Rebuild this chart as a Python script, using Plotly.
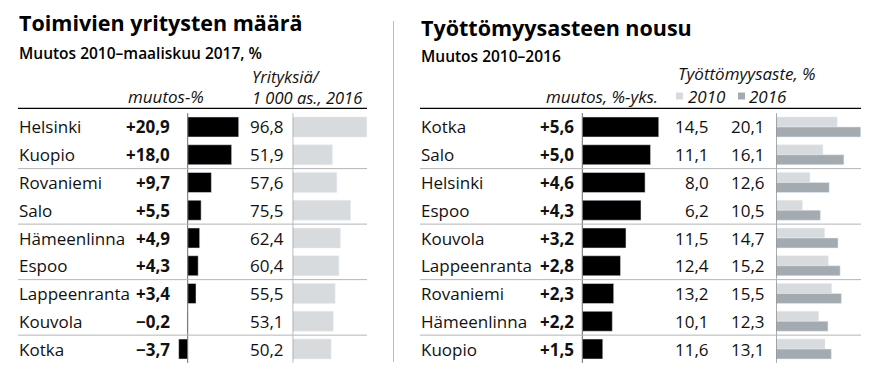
import plotly.graph_objects as go

# ---------------- data ----------------
left_cities = ["Helsinki", "Kuopio", "Rovaniemi", "Salo", "Hämeenlinna",
               "Espoo", "Lappeenranta", "Kouvola", "Kotka"]
left_change = [20.9, 18.0, 9.7, 5.5, 4.9, 4.3, 3.4, -0.2, -3.7]
left_per1000 = [96.8, 51.9, 57.6, 75.5, 62.4, 60.4, 55.5, 53.1, 50.2]

right_cities = ["Kotka", "Salo", "Helsinki", "Espoo", "Kouvola",
                "Lappeenranta", "Rovaniemi", "Hämeenlinna", "Kuopio"]
right_change = [5.6, 5.0, 4.6, 4.3, 3.2, 2.8, 2.3, 2.2, 1.5]
rate2010 = [14.5, 11.1, 8.0, 6.2, 11.5, 12.4, 13.2, 10.1, 11.6]
rate2016 = [20.1, 16.1, 12.6, 10.5, 14.7, 15.2, 15.5, 12.3, 13.1]

W, H = 873, 386
FONT = "Open Sans"
BLACK = "#000000"
LIGHT = "#d8dbde"
DARK = "#a3abb1"
SEP = "#b4b4b4"
AXC = "#6a6a6a"

rows = list(range(len(left_cities)))


def fmt(v, sign=False):
    s = f"{abs(v):.1f}".replace(".", ",")
    if sign:
        s = ("+" if v >= 0 else "\u2212") + s
    return s


def px_x(p):
    return p / W


def px_y(p):
    return 1 - p / H


def axis_range(zero_px, scale, p0, p1):
    return [(p0 - zero_px) / scale, (p1 - zero_px) / scale]


fig = go.Figure()

# bars
fig.add_trace(go.Bar(y=rows, x=left_change, orientation="h", marker_color=BLACK,
                     xaxis="x", yaxis="y", showlegend=False, hoverinfo="skip"))
fig.add_trace(go.Bar(y=rows, x=left_per1000, orientation="h", marker_color=LIGHT,
                     xaxis="x2", yaxis="y", showlegend=False, hoverinfo="skip"))
fig.add_trace(go.Bar(y=rows, x=right_change, orientation="h", marker_color=BLACK,
                     xaxis="x3", yaxis="y", showlegend=False, hoverinfo="skip"))
fig.add_trace(go.Bar(y=rows, x=rate2010, orientation="h", marker_color=LIGHT,
                     xaxis="x4", yaxis="y", showlegend=False, hoverinfo="skip"))
fig.add_trace(go.Bar(y=rows, x=rate2016, orientation="h", marker_color=DARK,
                     xaxis="x4", yaxis="y", showlegend=False, hoverinfo="skip"))

hidden = dict(visible=False, showgrid=False, zeroline=False, fixedrange=True)

ax_defs = {
    "xaxis": (187.7, 2.44, 170, 262),
    "xaxis2": (292.7, 0.765, 292.7, 372),
    "xaxis3": (582.3, 13.65, 575, 668),
    "xaxis4": (776.3, 4.2, 776.3, 868),
}
layout_axes = {}
for name, (z, s, p0, p1) in ax_defs.items():
    layout_axes[name] = dict(hidden, domain=[px_x(p0), px_x(p1)],
                             range=axis_range(z, s, p0, p1), anchor="y")

fig.update_layout(
    width=W, height=H, autosize=False,
    margin=dict(l=0, r=0, t=0, b=0),
    paper_bgcolor="white", plot_bgcolor="rgba(0,0,0,0)",
    barmode="group", bargap=0.28, bargroupgap=0,
    yaxis=dict(hidden, range=[8.5, -0.5],
               domain=[px_y(362.9), px_y(113.1)]),
    font=dict(family=FONT, color="#111111"),
    **layout_axes,
)

shapes = []
# zero / baseline axes
for xr in ["x", "x2", "x3", "x4"]:
    shapes.append(dict(type="line", xref=xr, yref="y", x0=0, x1=0, y0=-0.5, y1=8.5,
                       line=dict(color=AXC, width=1)))
# separators every two rows
for yy in [1.5, 3.5, 5.5, 7.5]:
    shapes.append(dict(type="line", xref="paper", yref="y", x0=px_x(18), x1=px_x(367),
                       y0=yy, y1=yy, line=dict(color=SEP, width=1)))
    shapes.append(dict(type="line", xref="paper", yref="y", x0=px_x(420), x1=px_x(861),
                       y0=yy, y1=yy, line=dict(color=SEP, width=1)))
# top header rules
shapes.append(dict(type="line", xref="paper", yref="paper", x0=px_x(18), x1=px_x(367),
                   y0=px_y(108.3), y1=px_y(108.3), line=dict(color="#000", width=1.2)))
shapes.append(dict(type="line", xref="paper", yref="paper", x0=px_x(420), x1=px_x(861),
                   y0=px_y(108.3), y1=px_y(108.3), line=dict(color="#000", width=1.2)))
# panel divider
shapes.append(dict(type="line", xref="paper", yref="paper", x0=px_x(393.5), x1=px_x(393.5),
                   y0=px_y(21), y1=px_y(362), line=dict(color="#bdbdbd", width=1)))
# legend squares
shapes.append(dict(type="rect", xref="paper", yref="paper", x0=px_x(676), x1=px_x(683),
                   y0=px_y(99.5), y1=px_y(92.5), line=dict(width=0), fillcolor=LIGHT))
shapes.append(dict(type="rect", xref="paper", yref="paper", x0=px_x(738), x1=px_x(745),
                   y0=px_y(99.5), y1=px_y(92.5), line=dict(width=0), fillcolor=DARK))

ann = []


def txt(text, x, y, size, anchor="left", yref="paper", weight=400, italic=False,
        color="#111111", align="left"):
    ann.append(dict(
        text=text, x=px_x(x), y=(px_y(y) if yref == "paper" else y),
        xref="paper", yref=yref, xanchor=anchor, yanchor="middle",
        showarrow=False, align=align,
        font=dict(family=FONT, size=size, color=color, weight=weight,
                  style="italic" if italic else "normal"),
    ))


# titles
txt("Toimivien yritysten määrä", 17, 23, 21.5, weight=700, color="#000")
txt("Muutos 2010\u2013maaliskuu 2017, %", 17, 53, 15.5, weight=600, color="#000")
txt("Työttömyysasteen nousu", 419, 27, 21.5, weight=700, color="#000")
txt("Muutos 2010\u20132016", 419, 56, 15.5, weight=600, color="#000")

# column headers
txt("muutos-%", 206, 96, 17, anchor="right", italic=True)
txt("Yrityksiä/<br>1 000 as., 2016", 250, 86.5, 16.5, italic=True)
txt("muutos, %-yks.", 660, 96, 17, anchor="right", italic=True)
txt("Työttömyysaste, %", 676, 73.5, 17, italic=True)
txt("2010", 686, 96, 17, italic=True)
txt("2016", 747, 96, 17, italic=True)

# row labels / values
for i in rows:
    txt(left_cities[i], 17, i, 17, yref="y")
    txt(fmt(left_change[i], True), 172, i, 17, anchor="right", yref="y", weight=700)
    txt(fmt(left_per1000[i]), 286, i, 17, anchor="right", yref="y")
    txt(right_cities[i], 419, i, 17, yref="y")
    txt(fmt(right_change[i], True), 576, i, 17, anchor="right", yref="y", weight=700)
    txt(fmt(rate2010[i]), 711, i, 17, anchor="right", yref="y")
    txt(fmt(rate2016[i]), 767, i, 17, anchor="right", yref="y")

fig.update_layout(shapes=shapes, annotations=ann)
fig.write_html("out.html", config={"displayModeBar": False},
               post_script="document.body.style.margin='0';")
